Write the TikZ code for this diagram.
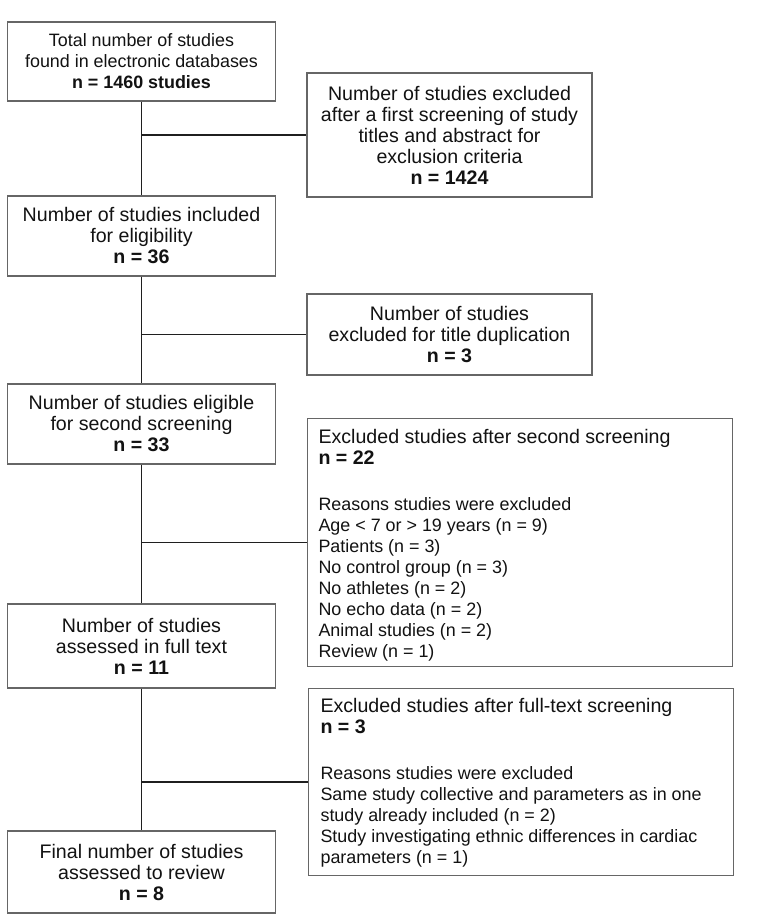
\documentclass[tikz,border=0pt]{standalone}
\usepackage{fontspec}
\setmainfont{Liberation Sans}
\newcommand{\bigf}{\fontsize{19.6}{21}\selectfont}
\newcommand{\smallf}{\fontsize{17.9}{21}\selectfont}
\begin{document}
\begin{tikzpicture}[x=1pt,y=-1pt,
  every node/.style={font=\bigf, text=black!93},
  box/.style={draw=black!60, line width=1.1pt, fill=white, align=center, inner sep=0pt},
  lbox/.style={draw=black!60, line width=1.1pt, fill=white, anchor=north west},
  conn/.style={draw=black!88, line width=1.2pt}]
\useasboundingbox (0,0) rectangle (769,914);
\fill[white] (0,0) rectangle (769,914);

\node[box, font=\smallf, minimum width=268pt, minimum height=79pt] (b1) at (141.5,61.5)
  {Total number of studies\\found in electronic databases\\\textbf{n = 1460 studies}};
\node[box, minimum width=285pt, minimum height=124pt] (r1) at (449.5,135)
  {Number of studies excluded\\after a first screening of study\\titles and abstract for\\exclusion criteria\\\textbf{n = 1424}};
\node[box, minimum width=268pt, minimum height=80pt] (b2) at (141.5,236)
  {Number of studies included\\for eligibility\\\textbf{n = 36}};
\node[box, minimum width=285pt, minimum height=81pt] (r2) at (449.5,334.5)
  {Number of studies\\excluded for title duplication\\\textbf{n = 3}};
\node[box, minimum width=268pt, minimum height=80pt] (b3) at (141.5,424)
  {Number of studies eligible\\for second screening\\\textbf{n = 33}};
\node[lbox, inner xsep=11pt, inner ysep=11pt] (r3) at (307,418)
  {\begin{minipage}[c][226pt][t]{403pt}\raggedright
   Excluded studies after second screening\\
   \textbf{n = 22}\\[25pt]
   {\smallf Reasons studies were excluded\\
   Age < 7 or > 19 years (n = 9)\\
   Patients (n = 3)\\
   No control group (n = 3)\\
   No athletes (n = 2)\\
   No echo data (n = 2)\\
   Animal studies (n = 2)\\
   Review (n = 1)}
   \end{minipage}};
\node[box, minimum width=268pt, minimum height=84pt] (b4) at (141.5,646)
  {Number of studies\\assessed in full text\\\textbf{n = 11}};
\node[lbox, inner xsep=12pt, inner ysep=10pt] (r4) at (308,688)
  {\begin{minipage}[c][167pt][t]{401pt}\raggedright
   Excluded studies after full-text screening\\
   \textbf{n = 3}\\[25pt]
   {\smallf Reasons studies were excluded\\
   Same study collective and parameters as in one\\
   study already included (n = 2)\\
   Study investigating ethnic differences in cardiac\\
   parameters (n = 1)}
   \end{minipage}};
\node[box, minimum width=268pt, minimum height=82pt] (b5) at (141.5,872)
  {Final number of studies\\assessed to review\\\textbf{n = 8}};

\draw[conn] (b1.south) -- (b2.north);
\draw[conn] (b2.south) -- (b3.north);
\draw[conn] (b3.south) -- (b4.north);
\draw[conn] (b4.south) -- (b5.north);
\draw[conn] (b1.south |- r1.west) -- (r1.west);
\draw[conn] (b2.south |- r2.west) -- (r2.west);
\draw[conn] (b3.south |- r3.west) -- (r3.west);
\draw[conn] (b4.south |- r4.west) -- (r4.west);
\end{tikzpicture}
\end{document}
